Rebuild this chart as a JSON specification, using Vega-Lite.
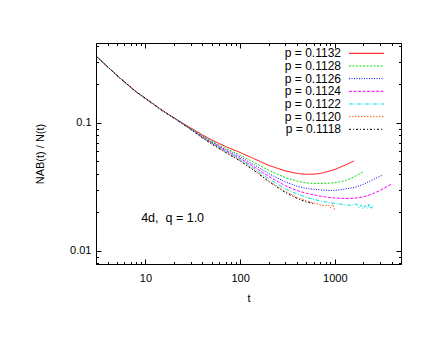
{
  "$schema": "https://vega.github.io/schema/vega-lite/v6.json",
  "width": 305,
  "height": 221,
  "autosize": "none",
  "padding": {"left": 96, "top": 43, "right": 35, "bottom": 73},
  "background": "white",
  "config": {
    "font": "Liberation Sans",
    "view": {"stroke": "black", "strokeWidth": 1},
    "axis": {"domain": false, "grid": false, "tickColor": "black", "labelColor": "black", "titleColor": "black", "labelFontSize": 11, "titleFontSize": 11, "titleFontWeight": "normal", "tickWidth": 1, "labelOverlap": false, "labelFlush": false},
    "legend": {"labelColor": "black"}
  },
  "datasets": {
    "curves": [
    {"p":"0.1132","t":3,"v":0.3337},{"p":"0.1132","t":4,"v":0.2738},{"p":"0.1132","t":5,"v":0.235},{"p":"0.1132","t":6,"v":0.2091},{"p":"0.1132","t":8,"v":0.1747},{"p":"0.1132","t":10,"v":0.1554},{"p":"0.1132","t":15,"v":0.1252},{"p":"0.1132","t":20,"v":0.1094},
    {"p":"0.1132","t":30,"v":0.0914},{"p":"0.1132","t":40,"v":0.0806},{"p":"0.1132","t":50,"v":0.0737},{"p":"0.1132","t":70,"v":0.0655},{"p":"0.1132","t":100,"v":0.0588},{"p":"0.1132","t":150,"v":0.0514},{"p":"0.1132","t":200,"v":0.0466},{"p":"0.1132","t":300,"v":0.0422},{"p":"0.1132","t":400,"v":0.0403},{"p":"0.1132","t":500,"v":0.0397},{"p":"0.1132","t":600,"v":0.0398},{"p":"0.1132","t":700,"v":0.0403},{"p":"0.1132","t":850,"v":0.0418},{"p":"0.1132","t":1000,"v":0.0433},{"p":"0.1132","t":1300,"v":0.047},{"p":"0.1132","t":1600,"v":0.0505},
    {"p":"0.1128","t":3,"v":0.3337},{"p":"0.1128","t":4,"v":0.2738},{"p":"0.1128","t":5,"v":0.235},{"p":"0.1128","t":6,"v":0.2091},{"p":"0.1128","t":8,"v":0.1747},{"p":"0.1128","t":10,"v":0.1554},{"p":"0.1128","t":15,"v":0.1252},{"p":"0.1128","t":20,"v":0.1094},
    {"p":"0.1128","t":30,"v":0.0906},{"p":"0.1128","t":40,"v":0.0793},{"p":"0.1128","t":50,"v":0.072},{"p":"0.1128","t":70,"v":0.0634},{"p":"0.1128","t":100,"v":0.0561},{"p":"0.1128","t":150,"v":0.0479},{"p":"0.1128","t":200,"v":0.0426},{"p":"0.1128","t":300,"v":0.0374},{"p":"0.1128","t":400,"v":0.0351},{"p":"0.1128","t":500,"v":0.034},{"p":"0.1128","t":600,"v":0.0337},{"p":"0.1128","t":700,"v":0.0337},{"p":"0.1128","t":850,"v":0.0338},{"p":"0.1128","t":1000,"v":0.0341},{"p":"0.1128","t":1300,"v":0.0355},{"p":"0.1128","t":1600,"v":0.0379},{"p":"0.1128","t":2000,"v":0.0416},
    {"p":"0.1126","t":3,"v":0.3337},{"p":"0.1126","t":4,"v":0.2738},{"p":"0.1126","t":5,"v":0.235},{"p":"0.1126","t":6,"v":0.2091},{"p":"0.1126","t":8,"v":0.1747},{"p":"0.1126","t":10,"v":0.1554},{"p":"0.1126","t":15,"v":0.1252},{"p":"0.1126","t":20,"v":0.1094},
    {"p":"0.1126","t":30,"v":0.0901},{"p":"0.1126","t":40,"v":0.0784},{"p":"0.1126","t":50,"v":0.071},{"p":"0.1126","t":70,"v":0.062},{"p":"0.1126","t":100,"v":0.0544},{"p":"0.1126","t":150,"v":0.0458},{"p":"0.1126","t":200,"v":0.0402},{"p":"0.1126","t":300,"v":0.0346},{"p":"0.1126","t":400,"v":0.032},{"p":"0.1126","t":500,"v":0.0308},{"p":"0.1126","t":600,"v":0.0303},{"p":"0.1126","t":700,"v":0.03},{"p":"0.1126","t":850,"v":0.0297},{"p":"0.1126","t":1000,"v":0.0297},{"p":"0.1126","t":1300,"v":0.0305},{"p":"0.1126","t":1600,"v":0.0313},{"p":"0.1126","t":2000,"v":0.0331},{"p":"0.1126","t":2500,"v":0.0359},{"p":"0.1126","t":3200,"v":0.0392},
    {"p":"0.1124","t":3,"v":0.3337},{"p":"0.1124","t":4,"v":0.2738},{"p":"0.1124","t":5,"v":0.235},{"p":"0.1124","t":6,"v":0.2091},{"p":"0.1124","t":8,"v":0.1747},{"p":"0.1124","t":10,"v":0.1554},{"p":"0.1124","t":15,"v":0.1252},{"p":"0.1124","t":20,"v":0.1094},
    {"p":"0.1124","t":30,"v":0.0897},{"p":"0.1124","t":40,"v":0.0776},{"p":"0.1124","t":50,"v":0.0701},{"p":"0.1124","t":70,"v":0.0608},{"p":"0.1124","t":100,"v":0.0529},{"p":"0.1124","t":150,"v":0.044},{"p":"0.1124","t":200,"v":0.0382},{"p":"0.1124","t":300,"v":0.0323},{"p":"0.1124","t":400,"v":0.0296},{"p":"0.1124","t":500,"v":0.0282},{"p":"0.1124","t":600,"v":0.0274},{"p":"0.1124","t":700,"v":0.0268},{"p":"0.1124","t":850,"v":0.0262},{"p":"0.1124","t":1000,"v":0.0259},{"p":"0.1124","t":1300,"v":0.0257},{"p":"0.1124","t":1600,"v":0.0258},{"p":"0.1124","t":2000,"v":0.0264},{"p":"0.1124","t":2500,"v":0.0279},{"p":"0.1124","t":3000,"v":0.0297},{"p":"0.1124","t":3500,"v":0.0316},{"p":"0.1124","t":4000,"v":0.0334},
    {"p":"0.1122","t":3,"v":0.3337},{"p":"0.1122","t":4,"v":0.2738},{"p":"0.1122","t":5,"v":0.235},{"p":"0.1122","t":6,"v":0.2091},{"p":"0.1122","t":8,"v":0.1747},{"p":"0.1122","t":10,"v":0.1554},{"p":"0.1122","t":15,"v":0.1252},{"p":"0.1122","t":20,"v":0.1094},
    {"p":"0.1122","t":30,"v":0.0894},{"p":"0.1122","t":40,"v":0.077},{"p":"0.1122","t":50,"v":0.0694},{"p":"0.1122","t":70,"v":0.0599},{"p":"0.1122","t":100,"v":0.0518},{"p":"0.1122","t":150,"v":0.0426},{"p":"0.1122","t":200,"v":0.0367},{"p":"0.1122","t":300,"v":0.0306},{"p":"0.1122","t":400,"v":0.0278},{"p":"0.1122","t":500,"v":0.0263},{"p":"0.1122","t":600,"v":0.0253},{"p":"0.1122","t":700,"v":0.0246},{"p":"0.1122","t":850,"v":0.0239},{"p":"0.1122","t":1000,"v":0.0235},{"p":"0.1122","t":1300,"v":0.0229},{"p":"0.1122","t":1500,"v":0.0227},{"p":"0.1122","t":1700,"v":0.0233},{"p":"0.1122","t":1800,"v":0.0217},{"p":"0.1122","t":1900,"v":0.0229},{"p":"0.1122","t":2000,"v":0.0213},{"p":"0.1122","t":2100,"v":0.0227},{"p":"0.1122","t":2200,"v":0.0215},{"p":"0.1122","t":2300,"v":0.0231},{"p":"0.1122","t":2400,"v":0.0213},{"p":"0.1122","t":2500,"v":0.0225},
    {"p":"0.1120","t":3,"v":0.3337},{"p":"0.1120","t":4,"v":0.2738},{"p":"0.1120","t":5,"v":0.235},{"p":"0.1120","t":6,"v":0.2091},{"p":"0.1120","t":8,"v":0.1747},{"p":"0.1120","t":10,"v":0.1554},{"p":"0.1120","t":15,"v":0.1252},{"p":"0.1120","t":20,"v":0.1094},
    {"p":"0.1120","t":30,"v":0.0891},{"p":"0.1120","t":40,"v":0.0765},{"p":"0.1120","t":50,"v":0.0688},{"p":"0.1120","t":70,"v":0.0591},{"p":"0.1120","t":100,"v":0.0508},{"p":"0.1120","t":150,"v":0.0414},{"p":"0.1120","t":200,"v":0.0353},{"p":"0.1120","t":300,"v":0.0291},{"p":"0.1120","t":400,"v":0.0262},{"p":"0.1120","t":500,"v":0.0246},{"p":"0.1120","t":600,"v":0.0237},{"p":"0.1120","t":700,"v":0.0229},{"p":"0.1120","t":800,"v":0.0225},{"p":"0.1120","t":850,"v":0.0229},{"p":"0.1120","t":900,"v":0.0217},{"p":"0.1120","t":950,"v":0.0231},{"p":"0.1120","t":1000,"v":0.0209},
    {"p":"0.1118","t":3,"v":0.3337},{"p":"0.1118","t":4,"v":0.2738},{"p":"0.1118","t":5,"v":0.235},{"p":"0.1118","t":6,"v":0.2091},{"p":"0.1118","t":8,"v":0.1747},{"p":"0.1118","t":10,"v":0.1554},{"p":"0.1118","t":15,"v":0.1252},{"p":"0.1118","t":20,"v":0.1094},
    {"p":"0.1118","t":30,"v":0.089},{"p":"0.1118","t":40,"v":0.0763},{"p":"0.1118","t":50,"v":0.0685},{"p":"0.1118","t":70,"v":0.0588},{"p":"0.1118","t":100,"v":0.0505},{"p":"0.1118","t":150,"v":0.041},{"p":"0.1118","t":200,"v":0.0349},{"p":"0.1118","t":300,"v":0.0286},{"p":"0.1118","t":400,"v":0.0257},{"p":"0.1118","t":500,"v":0.0241},{"p":"0.1118","t":590,"v":0.0235}
    ],
    "note": [{"label": "4d,\u00a0 q = 1.0"}]
  },
  "resolve": {"axis": {"x": "independent", "y": "independent"}},
  "layer": [
    {
      "data": {"name": "curves"},
      "mark": {"type": "line", "strokeWidth": 1, "clip": true},
      "encoding": {
        "x": {"field": "t", "type": "quantitative",
          "scale": {"type": "log", "domain": [3, 5000], "nice": false},
          "axis": {"orient": "bottom", "title": "t", "titlePadding": 7,
            "values": [3,4,5,6,7,8,9,10,20,30,40,50,60,70,80,90,100,200,300,400,500,600,700,800,900,1000,2000,3000,4000,5000],
            "tickSize": {"condition": {"test": "abs(log(datum.value)/LN10 - round(log(datum.value)/LN10)) < 0.000001", "value": -5}, "value": -2.5},
            "labelExpr": "abs(log(datum.value)/LN10 - round(log(datum.value)/LN10)) < 0.000001 ? format(datum.value, 'd') : ''",
            "labelPadding": 13}},
        "y": {"field": "v", "type": "quantitative",
          "scale": {"type": "log", "domain": [0.0079, 0.4217], "nice": false},
          "axis": {"orient": "left", "title": "NAB(t) / N(t)", "titlePadding": 24,
            "values": [0.008,0.009,0.01,0.02,0.03,0.04,0.05,0.06,0.07,0.08,0.09,0.1,0.2,0.3,0.4],
            "tickSize": {"condition": {"test": "abs(log(datum.value)/LN10 - round(log(datum.value)/LN10)) < 0.000001", "value": -5}, "value": -2.5},
            "labelExpr": "abs(log(datum.value)/LN10 - round(log(datum.value)/LN10)) < 0.000001 ? format(datum.value, '~g') : ''",
            "labelPadding": 10}},
        "color": {"field": "p", "type": "nominal",
          "scale": {"domain": ["0.1132","0.1128","0.1126","0.1124","0.1122","0.1120","0.1118"],
                    "range": ["#ff0000","#00e000","#0000ff","#ff00ff","#00e0e0","#ff6020","#000000"]},
          "legend": {"orient": "none", "legendX": 264.5, "legendY": 4.3, "title": null, "direction": "vertical",
            "symbolType": "M-3.5,0H3.5", "symbolSize": 100, "symbolStrokeWidth": 1, "symbolFillColor": "transparent",
            "labelAlign": "right", "labelOffset": -31.5, "labelFontSize": 12, "labelBaseline": "middle",
            "rowPadding": 0.67, "padding": 0, "labelLimit": 0, "labelExpr": "'p = ' + datum.label"}},
        "strokeDash": {"field": "p", "type": "nominal",
          "scale": {"domain": ["0.1132","0.1128","0.1126","0.1124","0.1122","0.1120","0.1118"],
                    "range": [[1,0],[2,1.5],[1,1.5],[3,1.5],[4,1.5,1,1.5],[1.5,1.5],[2,2,1,2]]},
          "legend": {"orient": "none", "legendX": 264.5, "legendY": 4.3, "title": null, "direction": "vertical",
            "symbolType": "M-3.5,0H3.5", "symbolSize": 100, "symbolStrokeWidth": 1, "symbolFillColor": "transparent",
            "labelAlign": "right", "labelOffset": -31.5, "labelFontSize": 12, "labelBaseline": "middle",
            "rowPadding": 0.67, "padding": 0, "labelLimit": 0, "labelExpr": "'p = ' + datum.label"}}
      }
    },
    {
      "data": {"name": "note"},
      "mark": {"type": "text", "align": "left", "baseline": "middle", "fontSize": 12.5, "color": "black"},
      "encoding": {
        "x": {"datum": 9, "type": "quantitative",
          "axis": {"orient": "top", "title": null, "labels": false,
            "values": [3,4,5,6,7,8,9,10,20,30,40,50,60,70,80,90,100,200,300,400,500,600,700,800,900,1000,2000,3000,4000,5000],
            "tickSize": {"condition": {"test": "abs(log(datum.value)/LN10 - round(log(datum.value)/LN10)) < 0.000001", "value": -5}, "value": -2.5}}},
        "y": {"datum": 0.0181, "type": "quantitative",
          "axis": {"orient": "right", "title": null, "labels": false,
            "values": [0.008,0.009,0.01,0.02,0.03,0.04,0.05,0.06,0.07,0.08,0.09,0.1,0.2,0.3,0.4],
            "tickSize": {"condition": {"test": "abs(log(datum.value)/LN10 - round(log(datum.value)/LN10)) < 0.000001", "value": -5}, "value": -2.5}}},
        "text": {"field": "label"}
      }
    }
  ]
}
